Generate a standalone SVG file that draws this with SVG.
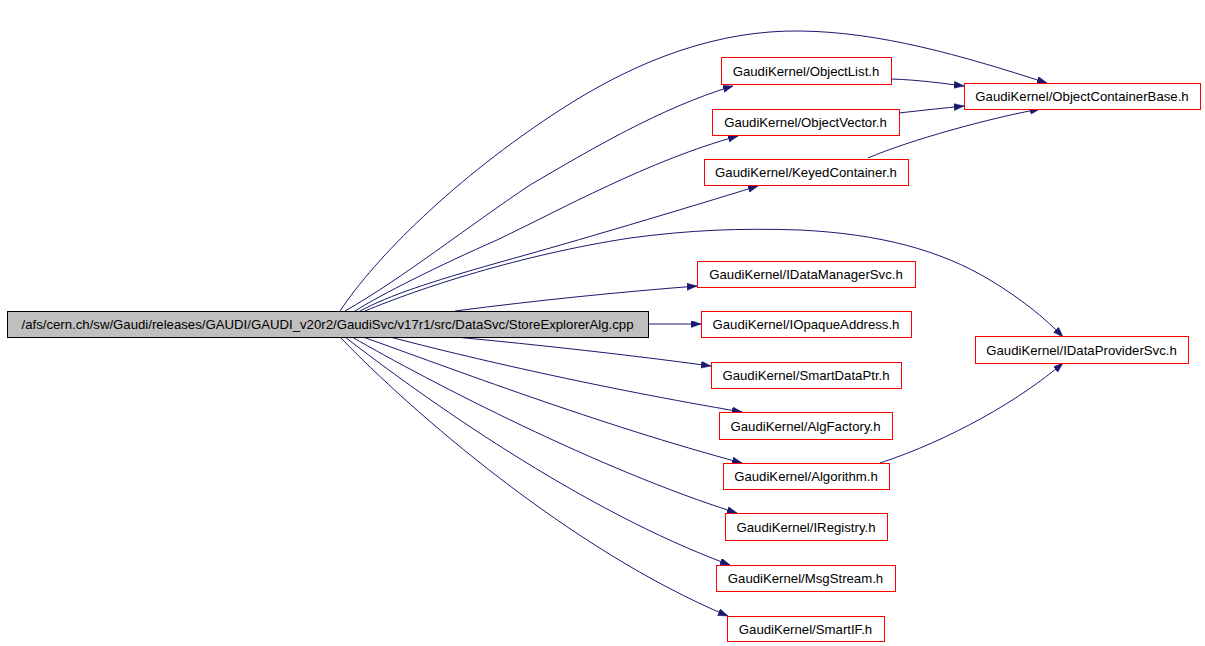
<svg xmlns="http://www.w3.org/2000/svg" width="1205" height="646" viewBox="0 0 1205 646">
<style>
.node rect{fill:#ffffff;stroke:#ff0000;stroke-width:1}
#n0 rect{fill:#bfbfbf;stroke:#000000}
.node text{font-family:"Liberation Sans",Arial,sans-serif;font-size:13.2px;fill:#000000;text-anchor:middle}
#edges path{fill:none;stroke:#191970;stroke-width:1;marker-end:url(#arr)}
</style>
<defs>
<marker id="arr" markerUnits="userSpaceOnUse" markerWidth="11" markerHeight="8" refX="10" refY="3.5" orient="auto">
<path d="M0,0 L10,3.5 L0,7 z" fill="#191970" stroke="#191970" stroke-width="0.5"/>
</marker>
</defs>
<rect width="1205" height="646" fill="#ffffff"/>
<g id="edges">
<path d="M340,311 C375,258 455,178 560,110 C640,58 720,30 800,31 C880,32 960,55 1047,83"/>
<path d="M345,311 C400,280 470,225 530,185 C590,150 660,108 733,86"/>
<path d="M355,311 C380,295 440,265 497,240 C560,210 650,160 738,136"/>
<path d="M360,311 C390,295 430,282 497,263 C580,240 680,210 758,186"/>
<path d="M365,311 C420,288 520,255 630,238 C690,230 740,228 800,230 C880,234 940,250 990,280 C1020,298 1045,318 1063,337"/>
<path d="M455,311 C540,300 620,292 697,286"/>
<path d="M648,324 L701,324"/>
<path d="M455,337 C540,345 630,355 711,366"/>
<path d="M390,337 C470,358 600,388 742,412"/>
<path d="M363,337 C450,368 600,425 742,463"/>
<path d="M352,337 C430,382 600,470 737,513"/>
<path d="M345,337 C420,395 580,510 730,565"/>
<path d="M340,337 C410,410 570,550 728,616"/>
<path d="M891,79 C920,80 940,83 964,86"/>
<path d="M899,113 C925,110 945,108 964,106"/>
<path d="M868,158 C910,140 990,118 1040,109"/>
<path d="M880,463 C950,440 1020,400 1063,363"/>
</g>
<g id="n0" class="node"><rect x="7.5" y="311.5" width="641" height="26"/><text x="327.5" y="329">/afs/cern.ch/sw/Gaudi/releases/GAUDI/GAUDI_v20r2/GaudiSvc/v17r1/src/DataSvc/StoreExplorerAlg.cpp</text></g>
<g id="n1" class="node"><rect x="721.5" y="57.5" width="170" height="27"/><text x="806" y="75.5">GaudiKernel/ObjectList.h</text></g>
<g id="n2" class="node"><rect x="964.5" y="83.5" width="236" height="26"/><text x="1082" y="101">GaudiKernel/ObjectContainerBase.h</text></g>
<g id="n3" class="node"><rect x="712.5" y="109.5" width="187" height="26"/><text x="805.5" y="127">GaudiKernel/ObjectVector.h</text></g>
<g id="n4" class="node"><rect x="704.5" y="159.5" width="204" height="26"/><text x="806" y="177">GaudiKernel/KeyedContainer.h</text></g>
<g id="n5" class="node"><rect x="697.5" y="261.5" width="218" height="26"/><text x="806" y="279">GaudiKernel/IDataManagerSvc.h</text></g>
<g id="n6" class="node"><rect x="701.5" y="311.5" width="210" height="26"/><text x="806" y="329">GaudiKernel/IOpaqueAddress.h</text></g>
<g id="n7" class="node"><rect x="711.5" y="362.5" width="190" height="26"/><text x="806" y="380">GaudiKernel/SmartDataPtr.h</text></g>
<g id="n8" class="node"><rect x="719.5" y="412.5" width="173" height="27"/><text x="805.5" y="430.5">GaudiKernel/AlgFactory.h</text></g>
<g id="n9" class="node"><rect x="975.5" y="336.5" width="213" height="27"/><text x="1081.5" y="354.5">GaudiKernel/IDataProviderSvc.h</text></g>
<g id="n10" class="node"><rect x="723.5" y="463.5" width="166" height="26"/><text x="806" y="481">GaudiKernel/Algorithm.h</text></g>
<g id="n11" class="node"><rect x="725.5" y="513.5" width="162" height="27"/><text x="806" y="531.5">GaudiKernel/IRegistry.h</text></g>
<g id="n12" class="node"><rect x="716.5" y="565.5" width="179" height="26"/><text x="805.5" y="583">GaudiKernel/MsgStream.h</text></g>
<g id="n13" class="node"><rect x="727.5" y="616.5" width="157" height="25"/><text x="805.5" y="633.5">GaudiKernel/SmartIF.h</text></g>
</svg>
